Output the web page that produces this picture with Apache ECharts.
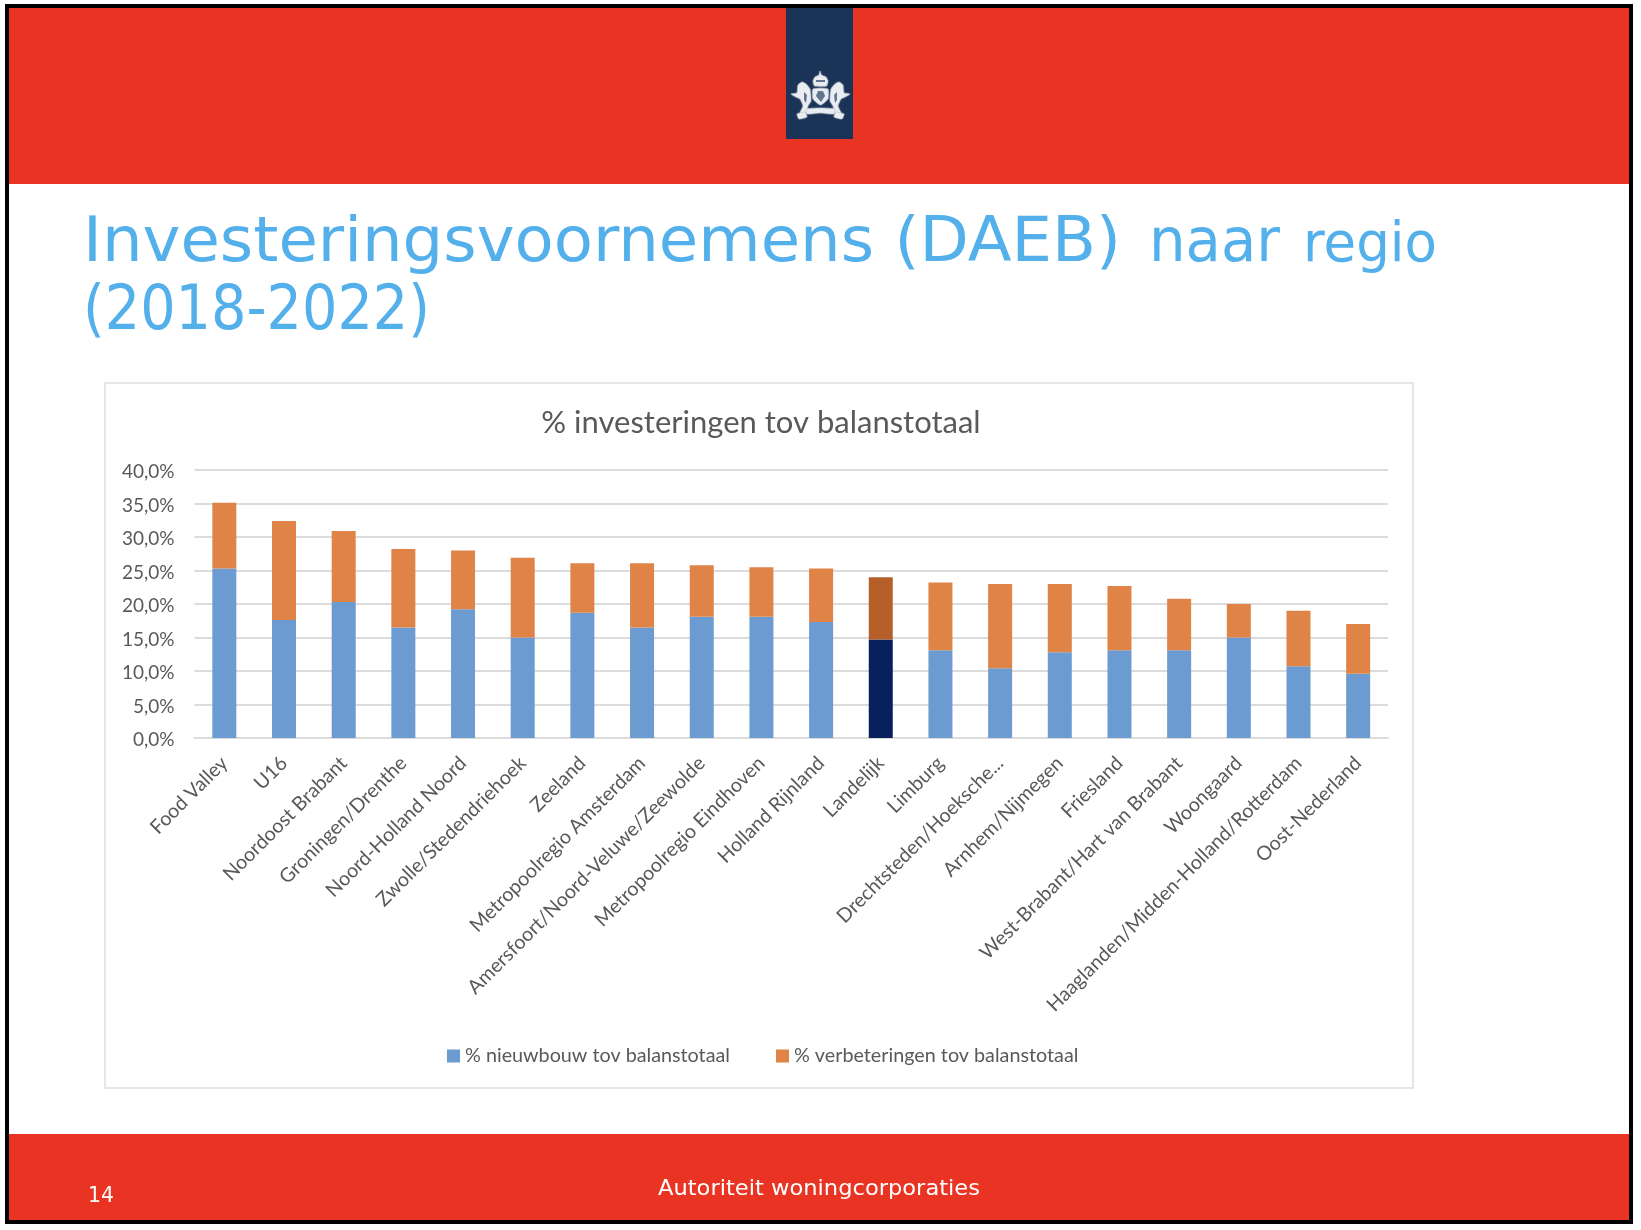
<!DOCTYPE html>
<html lang="nl">
<head>
<meta charset="utf-8">
<title>Investeringsvoornemens (DAEB) naar regio (2018-2022)</title>
<style>html,body{margin:0;padding:0;background:#fff}#slide{width:1641px;height:1230px}</style>
<script src="https://cdn.jsdelivr.net/npm/echarts@6/dist/echarts.min.js"></script>
</head>
<body>
<div id="slide"></div>
<script>
// Regio's, gesorteerd op totaal percentage
const regions = ['Food Valley','U16','Noordoost Brabant','Groningen/Drenthe','Noord-Holland Noord','Zwolle/Stedendriehoek','Zeeland','Metropoolregio Amsterdam','Amersfoort/Noord-Veluwe/Zeewolde','Metropoolregio Eindhoven','Holland Rijnland','Landelijk','Limburg','Drechtsteden/Hoeksche...','Arnhem/Nijmegen','Friesland','West-Brabant/Hart van Brabant','Woongaard','Haaglanden/Midden-Holland/Rotterdam','Oost-Nederland'];
const nieuwbouw = [25.3,17.6,20.3,16.5,19.2,15.0,18.7,16.5,18.1,18.1,17.3,14.7,13.1,10.4,12.8,13.1,13.1,15.0,10.7,9.6];
const verbeteringen = [9.8,14.8,10.6,11.7,8.8,11.9,7.4,9.6,7.7,7.4,8.0,9.3,10.1,12.6,10.2,9.6,7.7,5.0,8.3,7.4];
const highlighted = 'Landelijk';

const seriesNames = ['% nieuwbouw tov balanstotaal','% verbeteringen tov balanstotaal'];
const chartTitle = '% investeringen tov balanstotaal';

const RED = '#e93424', NAVY = '#1a3356', SKY = '#54b0ea', INK = '#595959', RULE = '#dcdcdc';
const BLUE = '#6b9bd1', ORANGE = '#df8347', DARK_BLUE = '#08205c', DARK_ORANGE = '#b65f28';
const CHART_FONT = 'Lato', SLIDE_FONT = '"DejaVu Sans"';

// Tekst op een gegeven breedte brengen, gemeten met het canvas
const probe = document.createElement('canvas').getContext('2d');
function fitted(text, size, family, x, baseline, width, fill) {
  const font = size + 'px ' + family;
  probe.font = font;
  return {
    type: 'text', x: x, y: baseline, scaleX: width / probe.measureText(text).width, z: 5,
    style: { text: text, font: font, fill: fill, verticalAlign: 'bottom', lineHeight: size, y: size * 0.235 }
  };
}
// Achtergrondvlakken liggen onder de assen en rasterlijnen
const rect = (x, y, w, h, fill, z) => ({
  type: 'rect', shape: { x, y, width: w, height: h }, style: { fill: fill }, silent: true, z: z
});
const crestPart = (points) => ({
  type: 'polygon', shape: { points: points, smooth: 0.15 }, z: 3,
  style: { fill: '#e9ecf0', stroke: '#aab4c3', lineWidth: 0.5, shadowBlur: 1.5, shadowColor: 'rgba(255,255,255,0.45)' }
});
const crestGap = (points) => ({
  type: 'polygon', shape: { points: points }, z: 4,
  style: { fill: '#4a5f7d', opacity: 0.85 }
});

const slideGraphics = [
  // Lijst en rode banden
  rect(5, 4, 1628, 1220, '#000', -9),
  rect(9, 8, 1620, 1212, '#fff', -8),
  rect(9, 8, 1620, 176, RED, -7),
  rect(9, 1134, 1620, 86, RED, -7),
  rect(786, 8, 67, 131, NAVY, -6),
  // Grafiekkader
  { type: 'rect', shape: { x: 105, y: 383, width: 1308, height: 705 }, z: -7,
    style: { fill: '#fff', stroke: '#dedede', lineWidth: 1.5 } },
  // Wapen: kroon, schild, leeuwen, lint
  crestPart([[820,71],[821.5,75],[826,77],[828,81],[826.5,86],[814.5,86],[813,81],[815,77],[819,75]]),
  crestPart([[813,89],[828,89],[828,99],[820.5,105],[813,99]]),
  crestPart([[798,85],[802,82],[806,84],[810,89],[811,101],[808,106],[806,113],[800,113],[803,106],[800,99],[796,97],[791,94],[797,93]]),
  crestPart([[843,85],[839,82],[835,84],[831,89],[830,101],[833,106],[835,113],[841,113],[838,106],[841,99],[845,97],[850,94],[844,93]]),
  crestPart([[806,109],[820,108],[835,109],[834,114],[820,113],[807,114]]),
  crestPart([[797,114],[805,112],[807,117],[799,119]]),
  crestPart([[844,114],[836,112],[834,117],[842,119]]),
  crestGap([[818,91],[823,91],[825,96],[821,102],[816,96]]),
  crestGap([[816,80],[825,80],[825,82],[816,82]]),
  crestGap([[804,92],[807,95],[806,103],[804,100]]),
  crestGap([[837,92],[834,95],[835,103],[837,100]]),
  // Dia-titel
  fitted('Investeringsvoornemens (DAEB)', 62, SLIDE_FONT, 83, 261, 1038, SKY),
  fitted('naar', 60, SLIDE_FONT, 1149, 261, 131, SKY),
  fitted('regio', 55, SLIDE_FONT, 1303, 261, 134, SKY),
  fitted('(2018-2022)', 62, SLIDE_FONT, 83, 329, 347, SKY),
  // Voettekst
  fitted('Autoriteit woningcorporaties', 22, SLIDE_FONT, 658, 1195, 322, '#fff'),
  fitted('14', 22, SLIDE_FONT, 88, 1202, 26, '#fff')
];

const option = {
  animation: false,
  backgroundColor: '#fff',
  graphic: { elements: slideGraphics },
  title: {
    text: chartTitle, left: 756, top: 402, textAlign: 'center',
    textStyle: { fontFamily: CHART_FONT, fontSize: 31, fontWeight: 'normal', color: INK }
  },
  legend: {
    data: seriesNames, left: 442, top: 1041, itemWidth: 13, itemHeight: 13, itemGap: 46,
    icon: 'rect', selectedMode: false,
    textStyle: { fontFamily: CHART_FONT, fontSize: 19.75, color: INK, padding: [0, 0, 0, 0] }
  },
  grid: { left: 194.5, right: 253, top: 470, bottom: 492, containLabel: false },
  xAxis: {
    type: 'category', data: regions,
    axisLine: { lineStyle: { color: RULE, width: 2 } },
    axisTick: { show: false },
    axisLabel: { interval: 0, rotate: 45, margin: 22, fontFamily: CHART_FONT, fontSize: 19.7, color: INK }
  },
  yAxis: {
    type: 'value', min: 0, max: 40, interval: 5,
    axisLine: { show: false }, axisTick: { show: false },
    splitLine: { lineStyle: { color: RULE, width: 2 } },
    axisLabel: {
      margin: 20, fontFamily: CHART_FONT, fontSize: 19, color: INK,
      verticalAlign: 'top', lineHeight: 4,
      formatter: (v) => v.toFixed(1).replace('.', ',') + '%'
    }
  },
  series: [
    { name: seriesNames[0], values: nieuwbouw, color: BLUE, strong: DARK_BLUE },
    { name: seriesNames[1], values: verbeteringen, color: ORANGE, strong: DARK_ORANGE }
  ].map((s) => ({
    name: s.name, type: 'bar', stack: 'totaal', barWidth: 24,
    itemStyle: { color: s.color },
    data: s.values.map((v, i) => regions[i] === highlighted
      ? { value: v, itemStyle: { color: s.strong } } : v)
  }))
};

echarts.init(document.getElementById('slide'), null, { renderer: 'canvas' }).setOption(option);
</script>
</body>
</html>
